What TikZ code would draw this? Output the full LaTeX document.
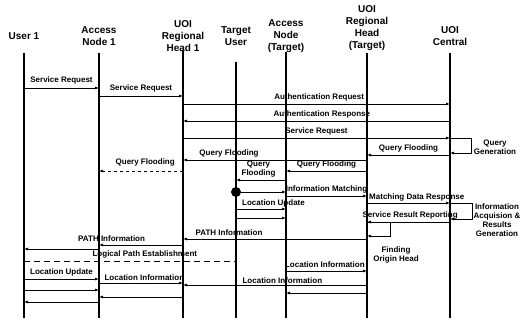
\documentclass[tikz,border=0pt]{standalone}
\usepackage{fontspec}
\setmainfont{Liberation Sans}
\usepackage{tikz}
\usetikzlibrary{calc}
\usetikzlibrary{positioning}
\usetikzlibrary{arrows.meta}

\tikzset{
    head/.style={font=\fontsize{10}{12}\selectfont\bfseries, align=center, inner sep=0pt},
    life/.style={line width=1.6pt},
    msg/.style={line width=0.9pt, -{Latex[length=4pt,width=3pt]}},
    lbl/.style={font=\fontsize{8}{9}\selectfont\bfseries, inner sep=1pt, align=center},
}

\begin{document}
\begin{tikzpicture}[x=1pt, y=-1pt]
    \useasboundingbox (0,0) rectangle (524,323);

    \node[head] (user) at (24,36) {User 1};
    \node[head] (an1) at (99,36) {Access\\Node 1};
    \node[head] (rh1) at (183,36) {UOI\\Regional\\Head 1};
    \node[head] (tuser) at (236,36) {Target\\User};
    \node[head] (ant) at (286,36) {Access\\Node\\(Target)};
    \node[head] (rht) at (367,28) {UOI\\Regional\\Head\\(Target)};
    \node[head] (central) at (450,36) {UOI\\Central};

    \foreach \n/\t in {user/53, an1/53, rh1/50, tuser/62, ant/52, rht/53, central/53}
        \draw[life] (\n |- 0,\t) -- (\n |- 0,318);

    \draw[msg] (user |- 0,88) -- node[lbl, above=2pt]{Service Request} (an1 |- 0,88);

    \draw[msg] (an1 |- 0,96) -- node[lbl, above=2pt]{Service Request} (rh1 |- 0,96);

    \draw[msg] (rh1 |- 0,104) -- node[lbl, above=1pt, pos=.51]{Authentication Request} (central |- 0,104);

    \draw[msg] (central |- 0,121) -- node[lbl, above=1pt, pos=.48]{Authentication Response} (rh1 |- 0,121);

    \draw[msg] (rh1 |- 0,138) -- node[lbl, above=1pt, pos=.5]{Service Request} (central |- 0,138);

    \draw[msg] (central |- 0,138) -- ++(21,0) -- ++(0,15) -- (central |- 0,153);
    \node[lbl] (qgen) at (495,147) {Query\\Generation};

    \draw[msg] (central |- 0,155) -- node[lbl, above=1pt]{Query Flooding} (rht |- 0,155);

    \draw[msg] (rht |- 0,160) -- node[lbl, above=1pt, pos=.75]{Query Flooding} (rh1 |- 0,160);

    \draw[msg] (rht |- 0,171) -- node[lbl, above=1pt]{Query Flooding} (ant |- 0,171);

    \draw[msg, dashed] (rh1 |- 0,171) -- node[lbl, above=3pt, pos=.45]{Query Flooding} (an1 |- 0,171);

    \draw[msg] (ant |- 0,180) -- node[lbl, above=1pt, pos=.55]{Query\\Flooding} (tuser |- 0,180);

    \node[circle, fill, inner sep=0pt, minimum size=10pt] (match) at (tuser |- 0,192) {};
    \draw[msg] (match) -- (ant |- match);

    \draw[msg] (ant |- 0,196) -- node[lbl, above=1pt]{Information Matching} (rht |- 0,196);

    \draw[msg] (rht |- 0,203) -- node[lbl, above=0pt, pos=.6]{Matching Data Response} (central |- 0,203);

    \draw[msg] (tuser |- 0,209) -- node[lbl, above=0pt, pos=.75]{Location Update} (ant |- 0,209);

    \draw[msg] (tuser |- 0,218) -- (ant |- 0,218);

    \draw[msg] (central |- 0,203) -- ++(22,0) -- ++(0,16) -- (central |- 0,219);
    \node[lbl] (iacq) at (497,220) {Information\\Acquision \&\\Results\\Generation};

    \draw[msg] (central |- 0,222) -- node[lbl, above=1pt, pos=.48]{Service Result Reporting} (rht |- 0,222);

    \draw[msg] (rht |- 0,222) -- ++(23,0) -- ++(0,14) -- (rht |- 0,236);
    \node[lbl] (forigin) at (396,255) {Finding\\Origin Head};

    \draw[msg] (rht |- 0,239) -- node[lbl, above=2pt, pos=.75]{PATH Information} (rh1 |- 0,239);

    \draw[msg] (rh1 |- 0,245) -- node[lbl, above=2pt, pos=.85]{PATH Information} (an1 |- 0,245);
    \draw[msg] (an1 |- 0,249) -- (user |- 0,249);

    \draw[line width=0.9pt, dashed, dash pattern=on 6pt off 4pt] (user |- 0,261) -- node[lbl, above=1pt, pos=.57]{Logical Path Establishment} (tuser |- 0,261);

    \draw[msg] (ant |- 0,271) -- node[lbl, above=2pt, pos=.48]{Location Information} (rht |- 0,271);

    \draw[msg] (rht |- 0,285) -- node[lbl, above=0pt, pos=.46]{Location Information} (rh1 |- 0,285);

    \draw[msg] (rht |- 0,293) -- (ant |- 0,293);

    \draw[msg] (an1 |- 0,283) -- node[lbl, above=1pt, pos=.54]{Location Information} (rh1 |- 0,283);

    \draw[msg] (rh1 |- 0,297) -- (an1 |- 0,297);

    \draw[msg] (user |- 0,279) -- node[lbl, above=1pt]{Location Update} (an1 |- 0,279);

    \draw[msg] (user |- 0,290) -- (an1 |- 0,290);

    \draw[msg] (an1 |- 0,302) -- (user |- 0,302);

\end{tikzpicture}
\end{document}
